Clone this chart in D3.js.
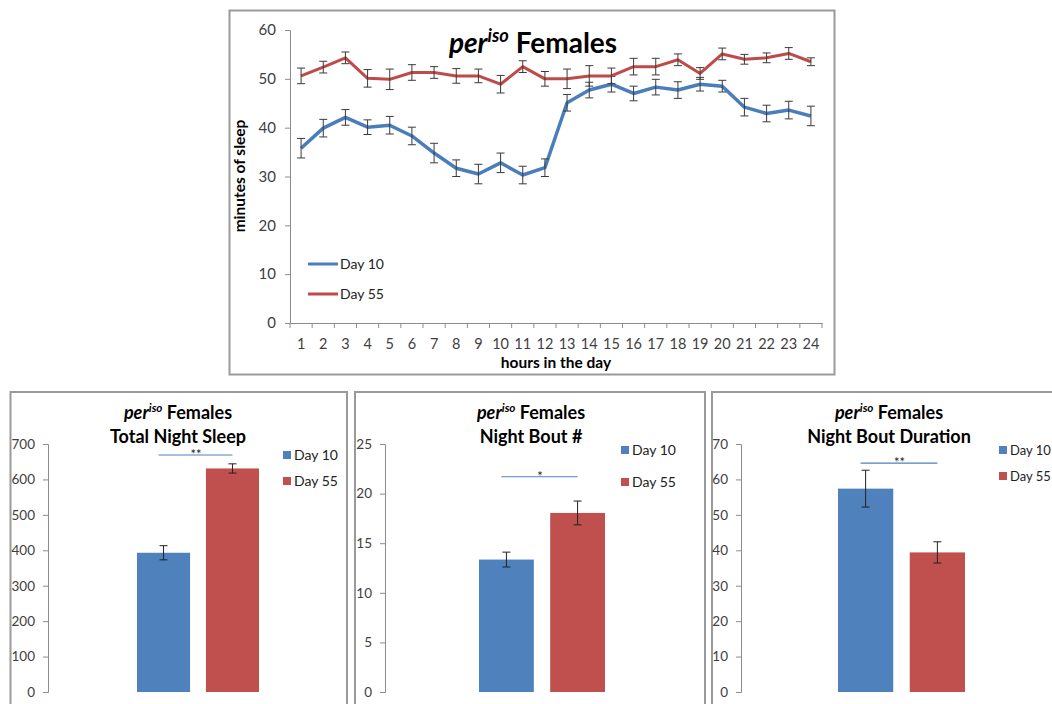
<!DOCTYPE html>
<html>
<head>
<meta charset="utf-8">
<script src="https://cdn.jsdelivr.net/npm/d3@7"></script>
<style>
body { margin: 0; background: #fff; }
text { font-family: Lato, "Open Sans", sans-serif; }
</style>
</head>
<body>
<div id="chart"></div>
<script>
// hourly sleep, per-iso females
var hours = ["1","2","3","4","5","6","7","8","9","10","11","12","13","14","15","16","17","18","19","20","21","22","23","24"]
var day10Sleep = [35.8,39.9,42.1,40.1,40.5,38.3,34.8,31.7,30.5,32.8,30.3,31.8,45.1,47.7,48.9,47.0,48.3,47.7,48.9,48.5,44.2,42.9,43.6,42.4]
var day10Err   = [2.0,1.8,1.6,1.5,1.8,1.8,2.0,1.7,2.0,2.0,1.8,1.8,1.7,1.6,1.6,1.5,1.6,1.7,1.4,1.2,1.8,1.7,1.8,2.0]
var day55Sleep = [50.6,52.4,54.3,50.1,49.9,51.3,51.3,50.6,50.6,48.9,52.5,50.0,50.0,50.6,50.6,52.5,52.5,53.9,51.1,55.1,54.0,54.3,55.2,53.5]
var day55Err   = [1.6,1.2,1.2,1.8,2.1,1.6,1.2,1.5,1.4,1.8,1.2,1.5,2.0,2.1,1.6,1.7,1.7,1.2,1.2,1.2,1.0,1.0,1.2,0.8]
var sleepTicks = [0,10,20,30,40,50,60]

var seriesNames = ["Day 10","Day 55"]
var seriesColors = ["#4F81BD","#C0504D"]
var lineColors = ["#4A7EBB","#BE4B48"]

// night summaries (Day 10, Day 55)
var nightSleep = [393, 631]
var nightSleepErr = [20, 13]
var nightSleepTicks = [0,100,200,300,400,500,600,700]
var boutCount = [13.35, 18.05]
var boutCountErr = [0.75, 1.2]
var boutCountTicks = [0,5,10,15,20,25]
var boutDur = [57.4, 39.4]
var boutDurErr = [5.2, 3.0]
var boutDurTicks = [0,10,20,30,40,50,60,70]
var barTitles = ["Total Night Sleep","Night Bout #","Night Bout Duration"]
var sigMarks = ["**","*","**"]
var sigLevels = [669, 21.7, 64.6]

var svg = d3.select("#chart").append("svg")
    .attr("width",1052)
    .attr("height",704)

var frameColor = "#9a9a9a"
var axisColor = "#8c8c8c"
var labelColor = "#404040"

function titleText(g, x, y, size){
    var t = g.append("text")
        .attr("x",x).attr("y",y)
        .attr("text-anchor","middle")
        .attr("font-size",size)
        .attr("font-weight","bold")
        .attr("fill","#000")
    t.append("tspan").attr("font-style","italic").text("per")
    t.append("tspan").attr("font-style","italic")
        .attr("font-size",size*0.65)
        .attr("dy",-size*0.38)
        .text("iso")
    t.append("tspan").attr("dy",size*0.38).text(" Females")
    return t
}

function drawLineChart(){
    var g = svg.append("g")
    g.append("rect")
        .attr("x",229.5).attr("y",10.5)
        .attr("width",605).attr("height",364)
        .attr("fill","none").attr("stroke",frameColor).attr("stroke-width",2)

    var x = d3.scaleBand().domain(hours).range([290,822])
    var y = d3.scaleLinear().domain([0,60]).range([323,30])

    // y axis
    var ya = g.append("g").attr("transform","translate(290,0)")
        .call(d3.axisLeft(y).tickValues(sleepTicks).tickSize(5).tickPadding(9))
    ya.selectAll("path,line").attr("stroke",axisColor)
    ya.selectAll("text").attr("font-size",15).attr("fill",labelColor).attr("font-family","Lato, sans-serif")

    // x axis: labels at centers, ticks on category edges
    var xa = g.append("g").attr("transform","translate(0,323)")
        .call(d3.axisBottom(x).tickSize(0).tickPadding(16))
    xa.select(".domain").attr("stroke",axisColor)
    xa.selectAll("text").attr("font-size",14.5).attr("fill",labelColor).attr("font-family","Lato, sans-serif")
    var edges = hours.map(function(h){ return x(h) }).concat([x.range()[1]])
    g.selectAll(".xedge").data(edges).enter().append("line")
        .attr("class","xedge")
        .attr("x1",function(d){return d}).attr("x2",function(d){return d})
        .attr("y1",323).attr("y2",328)
        .attr("stroke",axisColor)

    var line = d3.line()
        .x(function(d,i){ return x(hours[i]) + x.bandwidth()/2 })
        .y(function(d){ return y(d) })

    var sets = [[day10Sleep,day10Err],[day55Sleep,day55Err]]
    sets.forEach(function(s,k){
        g.append("path")
            .datum(s[0])
            .attr("d",line)
            .attr("fill","none")
            .attr("stroke",lineColors[k])
            .attr("stroke-width",k==0?3.5:3)
            .attr("stroke-linejoin","round")
        var eb = g.selectAll(".err"+k).data(s[0]).enter().append("g").attr("class","err"+k)
        eb.append("line")
            .attr("x1",function(d,i){return x(hours[i])+x.bandwidth()/2})
            .attr("x2",function(d,i){return x(hours[i])+x.bandwidth()/2})
            .attr("y1",function(d,i){return y(d-s[1][i])})
            .attr("y2",function(d,i){return y(d+s[1][i])})
        eb.append("line")
            .attr("x1",function(d,i){return x(hours[i])+x.bandwidth()/2-4})
            .attr("x2",function(d,i){return x(hours[i])+x.bandwidth()/2+4})
            .attr("y1",function(d,i){return y(d-s[1][i])})
            .attr("y2",function(d,i){return y(d-s[1][i])})
        eb.append("line")
            .attr("x1",function(d,i){return x(hours[i])+x.bandwidth()/2-4})
            .attr("x2",function(d,i){return x(hours[i])+x.bandwidth()/2+4})
            .attr("y1",function(d,i){return y(d+s[1][i])})
            .attr("y2",function(d,i){return y(d+s[1][i])})
        eb.selectAll("line").attr("stroke","#3a3a3a").attr("stroke-width",1)
    })

    titleText(g, 533, 53, 28)

    g.append("text")
        .attr("transform","translate(245,176) rotate(-90)")
        .attr("text-anchor","middle")
        .attr("font-size",15.5).attr("font-weight","bold")
        .text("minutes of sleep")
    g.append("text")
        .attr("x",556).attr("y",368)
        .attr("text-anchor","middle")
        .attr("font-size",15.5).attr("font-weight","bold")
        .text("hours in the day")

    // legend
    var lg = g.selectAll(".lleg").data(seriesNames).enter().append("g")
        .attr("class","lleg")
        .attr("transform",function(d,i){return "translate(308,"+(264+i*30)+")"})
    lg.append("line").attr("x1",0).attr("x2",30).attr("y1",0).attr("y2",0)
        .attr("stroke",function(d,i){return lineColors[i]}).attr("stroke-width",3)
    lg.append("text").attr("x",32).attr("y",5)
        .attr("font-size",14).attr("fill","#222")
        .text(function(d){return d})
}

function drawBarChart(p){
    var g = svg.append("g")
    g.append("rect")
        .attr("x",p.frameLeft).attr("y",392)
        .attr("width",p.frameRight-p.frameLeft).attr("height",330)
        .attr("fill","none").attr("stroke",frameColor).attr("stroke-width",2)

    var y = d3.scaleLinear().domain([0,p.ticks[p.ticks.length-1]]).range([692,444])
    var x = d3.scaleBand().domain(seriesNames).range(p.barRange).paddingInner(0.23)

    var ya = g.append("g").attr("transform","translate("+p.axisX+",0)")
        .call(d3.axisLeft(y).tickValues(p.ticks).tickSize(5).tickPadding(8))
    ya.selectAll("path,line").attr("stroke",axisColor)
    ya.selectAll("text").attr("font-size",13.5).attr("fill",labelColor).attr("font-family","Lato, sans-serif")

    g.selectAll(".bar").data(p.values).enter().append("rect")
        .attr("class","bar")
        .attr("x",function(d,i){return x(seriesNames[i])})
        .attr("width",x.bandwidth())
        .attr("y",function(d){return y(d)})
        .attr("height",function(d){return y(0)-y(d)})
        .attr("fill",function(d,i){return seriesColors[i]})

    var eb = g.selectAll(".berr").data(p.values).enter().append("g").attr("class","berr")
    function cx(i){ return x(seriesNames[i]) + x.bandwidth()/2 }
    eb.append("line")
        .attr("x1",function(d,i){return cx(i)}).attr("x2",function(d,i){return cx(i)})
        .attr("y1",function(d,i){return y(d-p.errs[i])}).attr("y2",function(d,i){return y(d+p.errs[i])})
    eb.append("line")
        .attr("x1",function(d,i){return cx(i)-4}).attr("x2",function(d,i){return cx(i)+4})
        .attr("y1",function(d,i){return y(d-p.errs[i])}).attr("y2",function(d,i){return y(d-p.errs[i])})
    eb.append("line")
        .attr("x1",function(d,i){return cx(i)-4}).attr("x2",function(d,i){return cx(i)+4})
        .attr("y1",function(d,i){return y(d+p.errs[i])}).attr("y2",function(d,i){return y(d+p.errs[i])})
    eb.selectAll("line").attr("stroke","#222").attr("stroke-width",1)

    // significance bar
    var sy = y(p.sigLevel)
    g.append("line")
        .attr("x1",cx(0)-5).attr("x2",cx(1))
        .attr("y1",sy).attr("y2",sy)
        .attr("stroke","#4F81BD").attr("stroke-width",1.2)
    g.append("text")
        .attr("x",(cx(0)+cx(1))/2-2).attr("y",sy+4)
        .attr("text-anchor","middle")
        .attr("font-size",13).attr("fill","#222")
        .text(p.sig)

    titleText(g, p.titleX, 419, 18)
    g.append("text")
        .attr("x",p.titleX).attr("y",443)
        .attr("text-anchor","middle")
        .attr("font-size",18).attr("font-weight","bold")
        .text(p.title)

    var lg = g.selectAll(".bleg").data(seriesNames).enter().append("g")
        .attr("class","bleg")
        .attr("transform",function(d,i){return "translate("+p.legendX+","+p.legendY[i]+")"})
    lg.append("rect").attr("x",0).attr("y",-4).attr("width",8).attr("height",8)
        .attr("fill",function(d,i){return seriesColors[i]})
    lg.append("text").attr("x",11).attr("y",5)
        .attr("font-size",p.legendSize).attr("fill","#222")
        .text(function(d){return d})
}

drawLineChart()

drawBarChart({frameLeft:10.5, frameRight:347, axisX:48, barRange:[137,259],
    values:nightSleep, errs:nightSleepErr, ticks:nightSleepTicks,
    title:barTitles[0], sig:sigMarks[0], sigLevel:sigLevels[0],
    titleX:178, legendX:283, legendY:[455,481], legendSize:14})
drawBarChart({frameLeft:355, frameRight:705, axisX:385, barRange:[479,605],
    values:boutCount, errs:boutCountErr, ticks:boutCountTicks,
    title:barTitles[1], sig:sigMarks[1], sigLevel:sigLevels[1],
    titleX:531, legendX:621, legendY:[450,482], legendSize:14})
drawBarChart({frameLeft:712, frameRight:1070, axisX:741, barRange:[838,965],
    values:boutDur, errs:boutDurErr, ticks:boutDurTicks,
    title:barTitles[2], sig:sigMarks[2], sigLevel:sigLevels[2],
    titleX:889, legendX:999, legendY:[450,476], legendSize:13})
</script>
</body>
</html>
